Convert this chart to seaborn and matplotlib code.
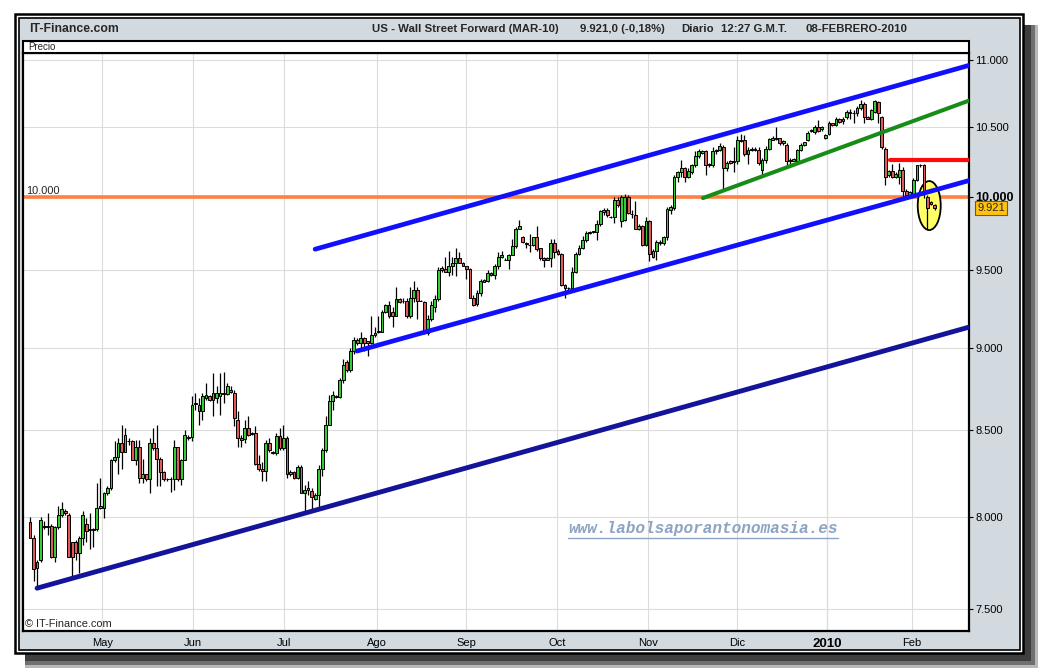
import numpy as np
import pandas as pd
import matplotlib
matplotlib.use("Agg")
import matplotlib.pyplot as plt
import matplotlib.transforms as mtrans
from matplotlib.patches import Rectangle, Ellipse
from matplotlib.lines import Line2D
from matplotlib.ticker import NullLocator
import seaborn as sns

# velas diarias (apertura, maximo, minimo, cierre)
open_ = [
    7970, 7880, 7720, 7760, 7950, 7940, 7950, 7780, 7940, 8010,
    8030, 8010, 7860, 7860, 7800, 7880, 7960, 7925, 7930, 7930,
    8050, 8050, 8130, 8160, 8320, 8340, 8420, 8370, 8430, 8430,
    8320, 8400, 8220, 8240, 8215, 8420, 8390, 8330, 8250, 8210,
    8215, 8215, 8400, 8210, 8320, 8450, 8455, 8660, 8650, 8610,
    8690, 8700, 8680, 8690, 8700, 8720, 8715, 8740, 8720, 8560,
    8450, 8445, 8510, 8475, 8480, 8300, 8270, 8260, 8420, 8365,
    8360, 8460, 8390, 8450, 8240, 8250, 8220, 8280, 8130, 8150,
    8145, 8100, 8120, 8270, 8380, 8530, 8670, 8700, 8695, 8800,
    8910, 8860, 8980,
    9050, 9030, 9060, 9040, 9030, 9080, 9100, 9100,
    9230, 9270, 9230, 9200, 9310, 9295, 9300, 9200, 9320, 9370,
    9300, 9290, 9090, 9180, 9260, 9310, 9500, 9510, 9490, 9525,
    9550, 9580, 9550, 9525, 9510, 9320, 9280, 9350, 9425, 9430,
    9480, 9470, 9530, 9590, 9570, 9570, 9600, 9660, 9780, 9720,
    9685, 9670, 9665, 9720, 9645, 9580, 9570, 9580, 9680, 9630,
    9610, 9400, 9380, 9380, 9490, 9610, 9650, 9700, 9752, 9755,
    9755, 9810, 9895, 9910, 9860, 9860, 9980, 9830, 9840, 10000,
    9880, 9870, 9780, 9800, 9670, 9830, 9590, 9630, 9690, 9680,
    9720, 9910, 9920, 10140, 10170, 10200, 10140, 10170, 10220, 10290,
    10310, 10320, 10220, 10220, 10320, 10330, 10350, 10200, 10250, 10245,
    10250, 10395, 10400, 10300, 10330, 10340, 10330, 10190, 10260, 10340,
    10405, 10420, 10415, 10380, 10370, 10250, 10255, 10250, 10330, 10370,
    10405, 10470, 10460, 10500, 10480, 10420, 10450, 10525, 10515,
    10555, 10540, 10570, 10610, 10600, 10600, 10640, 10670, 10570, 10560,
    10610, 10680, 10570, 10340, 10150, 10180, 10140, 10140, 10190, 10040,
    10010, 10020, 10120, 10220, 10220, 10000, 9960, 9940,
]
high = [
    8000, 7900, 7760, 8000, 7975, 8020, 7960, 7950, 8060, 8080,
    8040, 8020, 7860, 7870, 7890, 8030, 7990, 8020, 7935, 8190,
    8220, 8140, 8170, 8330, 8430, 8450, 8530, 8510, 8450, 8440,
    8440, 8440, 8330, 8240, 8450, 8510, 8530, 8340, 8260, 8220,
    8225, 8440, 8400, 8330, 8500, 8470, 8700, 8720, 8690, 8720,
    8780, 8710, 8840, 8760, 8840, 8850, 8780, 8760, 8740, 8610,
    8470, 8560, 8580, 8485, 8520, 8350, 8310, 8440, 8450, 8375,
    8480, 8510, 8530, 8460, 8265, 8260, 8290, 8290, 8180, 8200,
    8160, 8130, 8290, 8390, 8580, 8710, 8730, 8710, 8810, 8930,
    8920, 9000, 9070,
    9060, 9100, 9070, 9045, 9200, 9130, 9200, 9240,
    9280, 9300, 9260, 9390, 9315, 9320, 9320, 9390, 9430, 9390,
    9305, 9300, 9210, 9300, 9340, 9520, 9530, 9590, 9630, 9590,
    9650, 9620, 9555, 9530, 9515, 9340, 9370, 9440, 9440, 9500,
    9490, 9540, 9620, 9630, 9580, 9610, 9710, 9790, 9840, 9730,
    9690, 9740, 9725, 9800, 9650, 9590, 9590, 9710, 9710, 9640,
    9615, 9410, 9390, 9520, 9620, 9670, 9730, 9760, 9760, 9765,
    9840, 9910, 9920, 9920, 9865, 10000, 10000, 10010, 10020, 10010,
    9910, 9970, 9810, 9805, 9860, 9840, 9640, 9700, 9700, 9730,
    9930, 9940, 10150, 10180, 10260, 10210, 10200, 10230, 10320, 10340,
    10330, 10330, 10240, 10350, 10340, 10380, 10370, 10250, 10260, 10350,
    10430, 10450, 10440, 10350, 10350, 10350, 10350, 10270, 10360, 10420,
    10430, 10500, 10420, 10400, 10380, 10270, 10270, 10340, 10380, 10390,
    10465, 10485, 10510, 10550, 10505, 10450, 10540, 10530, 10575,
    10565, 10570, 10620, 10630, 10620, 10650, 10700, 10680, 10580, 10630,
    10700, 10690, 10580, 10350, 10190, 10230, 10170, 10240, 10210, 10050,
    10040, 10130, 10225, 10230, 10230, 10010, 9970, 9950,
]
low = [
    7880, 7650, 7610, 7750, 7930, 7900, 7770, 7750, 7930, 8000,
    8010, 7780, 7670, 7760, 7690, 7840, 7860, 7820, 7830, 7920,
    8040, 7990, 8120, 8150, 8310, 8240, 8270, 8370, 8410, 8320,
    8290, 8190, 8190, 8200, 8130, 8380, 8170, 8170, 8200, 8200,
    8140, 8150, 8200, 8180, 8320, 8440, 8430, 8620, 8530, 8560,
    8680, 8670, 8580, 8660, 8590, 8660, 8710, 8720, 8520, 8400,
    8400, 8420, 8460, 8470, 8290, 8260, 8200, 8200, 8370, 8355,
    8350, 8380, 8380, 8220, 8230, 8215, 8210, 8130, 8020, 8120,
    8030, 8090, 8050, 8230, 8370, 8530, 8620, 8690, 8690, 8780,
    8850, 8850, 8960,
    9020, 8990, 8980, 8950, 9025, 9070, 9090, 9100,
    9220, 9190, 9130, 9200, 9285, 9285, 9190, 9190, 9290, 9180,
    9295, 9085, 9080, 9170, 9230, 9300, 9490, 9485, 9460, 9470,
    9460, 9545, 9525, 9440, 9315, 9265, 9265, 9330, 9420, 9420,
    9460, 9440, 9505, 9580, 9565, 9505, 9600, 9650, 9775, 9680,
    9650, 9620, 9660, 9630, 9570, 9520, 9565, 9520, 9580, 9600,
    9395, 9320, 9370, 9370, 9480, 9600, 9640, 9690, 9745, 9750,
    9700, 9800, 9870, 9860, 9850, 9820, 9930, 9790, 9830, 9880,
    9850, 9775, 9770, 9660, 9660, 9560, 9580, 9570, 9670, 9665,
    9700, 9880, 9910, 10100, 10140, 10100, 10130, 10160, 10210, 10270,
    10300, 10150, 10210, 10210, 10300, 10320, 10050, 10180, 10230, 10170,
    10230, 10390, 10290, 10230, 10320, 10320, 10220, 10150, 10240, 10330,
    10400, 10400, 10370, 10370, 10220, 10220, 10250, 10240, 10320, 10360,
    10395, 10460, 10450, 10460, 10470, 10410, 10440, 10505, 10505,
    10525, 10520, 10560, 10560, 10530, 10580, 10620, 10530, 10555, 10550,
    10600, 10530, 10340, 10080, 10140, 10130, 10130, 10090, 10000, 10000,
    10000, 10000, 10110, 10210, 9990, 9780, 9940, 9910,
]
close = [
    7880, 7710, 7750, 7980, 7940, 7950, 7780, 7940, 8010, 8040,
    8020, 7780, 7780, 7800, 7880, 8010, 7920, 7930, 7925, 8050,
    8060, 8130, 8160, 8320, 8340, 8420, 8370, 8470, 8430, 8320,
    8400, 8220, 8240, 8215, 8420, 8390, 8330, 8250, 8210, 8215,
    8215, 8400, 8210, 8320, 8470, 8455, 8650, 8655, 8610, 8700,
    8710, 8680, 8720, 8720, 8720, 8715, 8760, 8725, 8570, 8450,
    8440, 8510, 8470, 8480, 8300, 8270, 8260, 8420, 8380, 8370,
    8460, 8390, 8450, 8240, 8255, 8220, 8280, 8130, 8150, 8160,
    8110, 8120, 8270, 8380, 8530, 8670, 8710, 8695, 8800, 8890,
    8860, 8980, 9050,
    9030, 9060, 9030, 9030, 9080, 9095, 9105, 9230,
    9270, 9200, 9200, 9310, 9290, 9295, 9200, 9320, 9370, 9300,
    9300, 9090, 9180, 9270, 9310, 9500, 9515, 9490, 9525, 9550,
    9580, 9550, 9530, 9510, 9320, 9270, 9350, 9430, 9435, 9480,
    9470, 9530, 9590, 9600, 9570, 9600, 9660, 9780, 9795, 9690,
    9675, 9670, 9720, 9640, 9580, 9570, 9580, 9680, 9620, 9610,
    9400, 9380, 9385, 9490, 9610, 9650, 9700, 9750, 9755, 9760,
    9810, 9900, 9910, 9870, 9860, 9980, 9940, 10000, 10000, 9890,
    9880, 9780, 9800, 9670, 9830, 9610, 9630, 9690, 9680, 9720,
    9915, 9925, 10140, 10170, 10200, 10140, 10180, 10220, 10290, 10320,
    10320, 10220, 10230, 10320, 10330, 10360, 10200, 10240, 10240, 10250,
    10400, 10400, 10300, 10330, 10340, 10330, 10240, 10260, 10340, 10410,
    10420, 10410, 10380, 10395, 10250, 10260, 10265, 10330, 10370, 10385,
    10455, 10475, 10500, 10470, 10495, 10440, 10525, 10515, 10555,
    10535, 10560, 10610, 10600, 10600, 10640, 10670, 10570, 10560, 10620,
    10690, 10600, 10350, 10140, 10180, 10140, 10160, 10190, 10040, 10010,
    10030, 10120, 10220, 10225, 10040, 9920, 9950, 9921,
]

# eje x: posicion de cada mes en numero de vela
month_pos = [20.5, 46.3, 72.2, 98.6, 123.9, 149.7, 175.6, 200.9, 226.4, 250.6]
month_labels = ["May", "Jun", "Jul", "Ago", "Sep", "Oct", "Nov", "Dic", "2010", "Feb"]

price_ticks = [7500, 8000, 8500, 9000, 9500, 10000, 10500, 11000]
price_labels = ["7.500", "8.000", "8.500", "9.000", "9.500", "10.000", "10.500", "11.000"]

# lineas dibujadas sobre el grafico (vela inicial, precio inicial, vela final, precio final)
line_names = ["canal_sup", "canal_inf", "soporte", "tendencia", "resistencia"]
line_x0 = [81.0, 92.9, 2.0, 191.2, 244.3]
line_p0 = [9640, 8979, 7610, 9990, 10260]
line_x1 = [266.8, 266.8, 266.8, 266.8, 266.8]
line_p1 = [10959, 10113, 9130, 10693, 10260]
level_price = 10000
last_price = 9921

n = len(close)
assert len(open_) == len(high) == len(low) == n

sns.set_style("white")
plt.rcParams["font.family"] = ["Liberation Sans", "DejaVu Sans"]

W, H = 1040, 670
fig = plt.figure(figsize=(W / 100, H / 100), dpi=100)


def box(x0, y0, x1, y1, **kw):
    r = Rectangle((x0 / W, 1 - y1 / H), (x1 - x0) / W, (y1 - y0) / H,
                  transform=fig.transFigure, **kw)
    fig.add_artist(r)
    return r


# sombra y marco
box(25, 25, 1038, 668, facecolor="#b8b8b8", edgecolor="none", zorder=-12)
box(25, 25, 1035, 665, facecolor="#707070", edgecolor="none", zorder=-11.5)
box(25, 25, 1031, 661, facecolor="#3e3e3e", edgecolor="none", zorder=-11)
box(15, 14, 1023, 653, facecolor="white", edgecolor="black", linewidth=1.8, zorder=-10)
box(19, 18, 1020, 650, facecolor="#d3dadf", edgecolor="black", linewidth=1.2, zorder=-9)

ax = fig.add_axes([23 / W, 1 - 631 / H, (969 - 23) / W, (631 - 53) / H])
ax.set_facecolor("white")
ax.set_yscale("log")

o = np.array(open_, dtype=float)
c = np.array(close, dtype=float)
hi = np.maximum(np.array(high, dtype=float), np.maximum(o, c))
lo = np.minimum(np.array(low, dtype=float), np.minimum(o, c))
x = np.arange(n)

colors = np.where(c >= o, "#36cc36", "#e05a5a")
ax.vlines(x, lo, hi, color="black", linewidth=0.9, zorder=3)
ax.bar(x, np.abs(c - o), bottom=np.minimum(o, c), width=0.8, color=colors,
       edgecolor="black", linewidth=0.7, zorder=3.2)

# lineas de tendencia
trend = pd.DataFrame({
    "x": line_x0 + line_x1,
    "precio": line_p0 + line_p1,
    "linea": line_names + line_names,
})
palette = {"canal_sup": "#1010ff", "canal_inf": "#1010ff", "soporte": "#14149a",
           "tendencia": "#178c17", "resistencia": "#ff0a0a"}
sizes = {"canal_sup": 3.4, "canal_inf": 3.4, "soporte": 3.5,
         "tendencia": 2.9, "resistencia": 3.0}
sns.lineplot(data=trend, x="x", y="precio", hue="linea", size="linea",
             palette=palette, sizes=sizes, estimator=None, sort=False,
             legend=False, ax=ax, zorder=4)
sns.lineplot(x=[-2.0, 266.8], y=[level_price, level_price], color="#ff8040",
             linewidth=2.6, ax=ax, zorder=2.5)

ax.set_xlim(-2.0, 266.8)
ax.set_ylim(7386, 11054)
ax.set_xlabel("")
ax.set_ylabel("")

ax.set_yticks(price_ticks)
ax.set_yticklabels(price_labels)
ax.yaxis.set_minor_locator(NullLocator())
ax.yaxis.tick_right()
ax.tick_params(axis="y", direction="out", length=3, width=0.8, pad=1.5,
               labelsize=8, colors="black")
ax.set_xticks(month_pos)
ax.set_xticklabels(month_labels)
ax.tick_params(axis="x", direction="out", length=3, width=0.8, pad=2,
               labelsize=8, colors="black")
ax.get_xticklabels()[8].set_fontweight("bold")
ax.get_xticklabels()[8].set_fontsize(9.5)
ax.get_yticklabels()[5].set_fontweight("bold")
ax.get_yticklabels()[5].set_fontsize(9)

ax.grid(True, color="#dcdcdc", linewidth=0.8)
ax.set_axisbelow(True)
ax.axvline(month_pos[8], color="#a6a6a6", linewidth=0.8, zorder=0.5)
for s in ax.spines.values():
    s.set_linewidth(1.6)
    s.set_color("black")

# circulo amarillo sobre las ultimas velas
cx, cy = (ax.transData + ax.transAxes.inverted()).transform((255.5, 9938))
ax.add_patch(Ellipse((cx, cy), 23 / 946, 49 / 578, transform=ax.transAxes,
                     facecolor="#ffff66", edgecolor="black", linewidth=1.3, zorder=2.8))

ax.annotate("10.000", xy=(-1.1, level_price), xytext=(0, 2), textcoords="offset points",
            fontsize=7.9, va="baseline", ha="left", zorder=5)

trans = mtrans.blended_transform_factory(ax.transAxes, ax.transData)
ax.text(1.0085, last_price, "9.921", transform=trans, fontsize=8, va="center", ha="left",
        bbox=dict(boxstyle="square,pad=0.2", facecolor="#ffc20e", edgecolor="#7a5a00",
                  linewidth=0.8), clip_on=False, zorder=6)

# franja "Precio"
box(23, 41, 969, 53, facecolor="white", edgecolor="black", linewidth=1.5, zorder=1)
fig.text(28 / W, 1 - 47 / H, "Precio", fontsize=7, va="center", zorder=2)

# cabecera
fig.text(29 / W, 1 - 28.5 / H, "IT-Finance.com", fontsize=8.8, fontweight="bold", va="center")
title_parts = ["US - Wall Street Forward (MAR-10)", "9.921,0 (-0,18%)", "Diario",
               "12:27 G.M.T.", "08-FEBRERO-2010"]
title_x = [372, 580, 681, 721, 806]
for t, px in zip(title_parts, title_x):
    fig.text(px / W, 1 - 28.5 / H, t, fontsize=8.2, fontweight="bold", va="center")

fig.text(25 / W, 1 - 624 / H, "\u00a9 IT-Finance.com", fontsize=7.9, va="center", zorder=5)

wm_color = "#8ea4c4"
fig.text(568 / W, 1 - 529 / H, "www.labolsaporantonomasia.es", family="Liberation Mono",
         style="italic", weight="bold", fontsize=11.6, color=wm_color, va="center", zorder=5)
fig.add_artist(Line2D([568 / W, 838 / W], [1 - 537.5 / H, 1 - 537.5 / H],
                      transform=fig.transFigure, color=wm_color, linewidth=1, zorder=5))

fig.savefig("out.png", dpi=100)
